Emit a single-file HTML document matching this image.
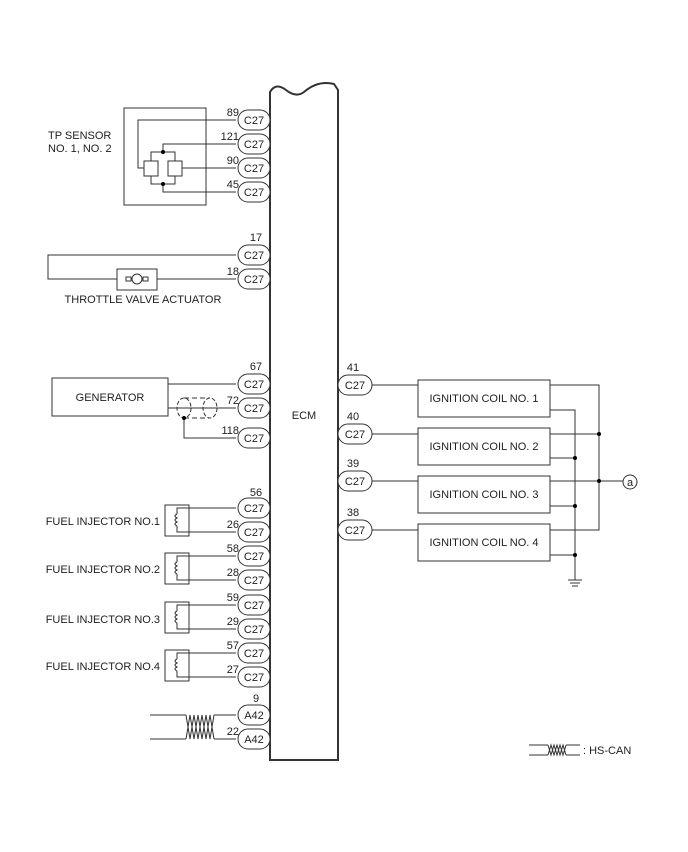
<!DOCTYPE html>
<html><head><style>body{margin:0;background:#fff}svg{display:block}text{font-family:"Liberation Sans",sans-serif;font-size:11px;fill:#222}</style></head><body>
<svg width="688" height="852" viewBox="0 0 688 852" xmlns="http://www.w3.org/2000/svg">
<g fill="none" stroke="#333" stroke-width="1">
<!-- ECM -->
<path d="M270,760 V92 Q276,82 286,90 Q296,98 304,92 Q318,80 334,84 L338,90 V760 Z" stroke-width="2" fill="#fff"/>
<!-- TP sensor -->
<rect x="124" y="108" width="82" height="97"/>
<path d="M236,120 H138 V168 H144"/>
<rect x="144" y="161" width="14" height="15"/><rect x="168" y="161" width="14" height="15"/>
<path d="M236,144 H163 V152 M151,161 V152 H175 V161 M151,176 V184 H175 V176 M163,184 V192 H236 M182,168 H236"/>
<!-- throttle -->
<path d="M236,255 H48 V279 H117 M157,279 H236"/>
<rect x="117" y="269" width="40" height="21"/>
<circle cx="137" cy="279" r="5"/>
<path d="M126,277 h5 v4 h-5z M143,277 h5 v4 h-5z"/>
<!-- generator -->
<rect x="52" y="378" width="116" height="38"/>
<path d="M168,384 H236 M168,408 H236 M184,418 V438 H236"/>
<ellipse cx="184" cy="408" rx="7" ry="10" stroke-dasharray="4,2"/>
<ellipse cx="210" cy="408" rx="7" ry="10" stroke-dasharray="4,2"/>
<path d="M184,398 H210 M184,418 H210" stroke-dasharray="5,3"/>
<!-- injectors -->
<g id="inj"><rect x="165" y="505" width="24" height="31"/><path d="M236,508 H177 V514 M177,526 V532 H236"/><path d="M177,514 q-4,2 0,4 q-4,2 0,4 q-4,2 0,4"/></g>
<use href="#inj" y="48"/><use href="#inj" y="97"/><use href="#inj" y="145"/>
<!-- CAN -->
<path d="M150,715 H186 M214,715 H236 M150,739 H186 M214,739 H236"/>
<polyline points="186,715 190,739 194,715 198,739 202,715 206,739 210,715 214,739"/>
<polyline points="186,739 190,715 194,739 198,715 202,739 206,715 210,739 214,715"/>
<path d="M529,745 H548 M566,745 H580 M529,755 H548 M566,755 H580"/>
<polyline points="548,745 551,755 554,745 557,755 560,745 563,755 566,745"/>
<polyline points="548,755 551,745 554,755 557,745 560,755 563,745 566,755"/>
<!-- ignition -->
<rect x="418" y="380" width="132" height="37"/><rect x="418" y="428" width="132" height="37"/>
<rect x="418" y="476" width="132" height="37"/><rect x="418" y="524" width="132" height="37"/>
<path d="M372,385 H418 M372,434 H418 M372,481 H418 M372,530 H418"/>
<path d="M550,385 H599 V530 H550 M550,434 H599 M550,481 H623 M550,410 H575 V580 M550,458 H575 M550,506 H575 M550,555 H575"/>
<path d="M568,580 H582 M570,583 H580 M572,586 H578"/>
<circle cx="630" cy="482" r="7"/>
</g>
<g fill="#000"><circle cx="163" cy="152" r="2"/><circle cx="163" cy="184" r="2"/><circle cx="184" cy="418" r="2"/>
<circle cx="599" cy="434" r="2"/><circle cx="599" cy="481" r="2"/><circle cx="575" cy="458" r="2"/><circle cx="575" cy="506" r="2"/><circle cx="575" cy="555" r="2"/></g>
<g fill="#fff" stroke="#333">
<rect x="238" y="110" width="32" height="20" rx="10"/><rect x="238" y="134" width="32" height="20" rx="10"/><rect x="238" y="158" width="32" height="20" rx="10"/><rect x="238" y="182" width="32" height="20" rx="10"/>
<rect x="238" y="245" width="32" height="20" rx="10"/><rect x="238" y="269" width="32" height="20" rx="10"/>
<rect x="238" y="374" width="32" height="20" rx="10"/><rect x="238" y="398" width="32" height="20" rx="10"/><rect x="238" y="428" width="32" height="20" rx="10"/>
<rect x="238" y="498" width="32" height="20" rx="10"/><rect x="238" y="522" width="32" height="20" rx="10"/><rect x="238" y="546" width="32" height="20" rx="10"/><rect x="238" y="570" width="32" height="20" rx="10"/>
<rect x="238" y="595" width="32" height="20" rx="10"/><rect x="238" y="619" width="32" height="20" rx="10"/><rect x="238" y="643" width="32" height="20" rx="10"/><rect x="238" y="667" width="32" height="20" rx="10"/>
<rect x="238" y="705" width="32" height="20" rx="10"/><rect x="238" y="729" width="32" height="20" rx="10"/>
<rect x="338" y="375" width="34" height="20" rx="10"/><rect x="338" y="424" width="34" height="20" rx="10"/><rect x="338" y="471" width="34" height="20" rx="10"/><rect x="338" y="520" width="34" height="20" rx="10"/>
</g>
<g text-anchor="middle">
<text x="254" y="124">C27</text><text x="254" y="148">C27</text><text x="254" y="172">C27</text><text x="254" y="196">C27</text>
<text x="254" y="259">C27</text><text x="254" y="283">C27</text>
<text x="254" y="388">C27</text><text x="254" y="412">C27</text><text x="254" y="442">C27</text>
<text x="254" y="512">C27</text><text x="254" y="536">C27</text><text x="254" y="560">C27</text><text x="254" y="584">C27</text>
<text x="254" y="609">C27</text><text x="254" y="633">C27</text><text x="254" y="657">C27</text><text x="254" y="681">C27</text>
<text x="254" y="719">A42</text><text x="254" y="743">A42</text>
<text x="355" y="389">C27</text><text x="355" y="438">C27</text><text x="355" y="485">C27</text><text x="355" y="534">C27</text>
<text x="484" y="402">IGNITION COIL NO. 1</text><text x="484" y="450">IGNITION COIL NO. 2</text><text x="484" y="498">IGNITION COIL NO. 3</text><text x="484" y="546">IGNITION COIL NO. 4</text>
<text x="630" y="486">a</text><text x="110" y="401">GENERATOR</text><text x="304" y="419">ECM</text>
<text x="143" y="303">THROTTLE VALVE ACTUATOR</text>
<text x="256" y="241">17</text><text x="256" y="370">67</text><text x="256" y="496">56</text><text x="256" y="702">9</text>
<text x="353" y="371">41</text><text x="353" y="420">40</text><text x="353" y="467">39</text><text x="353" y="516">38</text>
</g>
<g text-anchor="end">
<text x="239" y="116">89</text><text x="239" y="140">121</text><text x="239" y="164">90</text><text x="239" y="188">45</text>
<text x="239" y="275">18</text><text x="239" y="404">72</text><text x="239" y="434">118</text>
<text x="239" y="528">26</text><text x="239" y="552">58</text><text x="239" y="576">28</text><text x="239" y="601">59</text><text x="239" y="625">29</text><text x="239" y="649">57</text><text x="239" y="673">27</text><text x="239" y="735">22</text>
<text x="160" y="525">FUEL INJECTOR NO.1</text><text x="160" y="573">FUEL INJECTOR NO.2</text><text x="160" y="623">FUEL INJECTOR NO.3</text><text x="160" y="670">FUEL INJECTOR NO.4</text>
</g>
<text x="48" y="139">TP SENSOR</text><text x="48" y="152">NO. 1, NO. 2</text>
<text x="583" y="754">: HS-CAN</text>
</svg>
</body></html>
